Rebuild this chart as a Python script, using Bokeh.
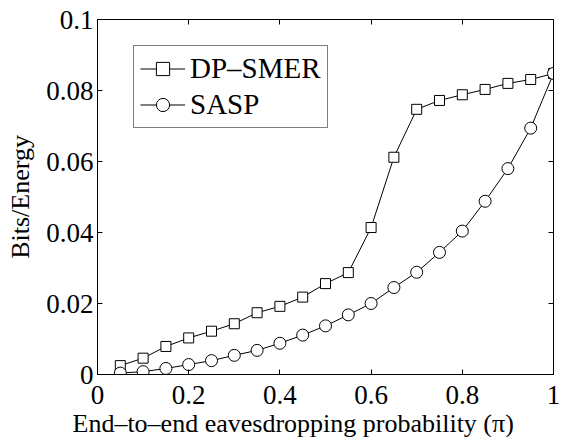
from bokeh.plotting import figure
from bokeh.models import (LinearAxis, FixedTicker, CustomJSTickFormatter, Legend,
                          LegendItem, Range1d, Title)
from bokeh.embed import file_html
from bokeh.resources import INLINE

# data
pi_vals = [0.05, 0.10, 0.15, 0.20, 0.25, 0.30, 0.35, 0.40, 0.45, 0.50,
           0.55, 0.60, 0.65, 0.70, 0.75, 0.80, 0.85, 0.90, 0.95, 1.00]
dp_smer = [0.0025, 0.0046, 0.0079, 0.0103, 0.0122, 0.0143, 0.0174, 0.0192, 0.0218, 0.0256,
           0.0287, 0.0414, 0.0612, 0.0747, 0.0772, 0.0788, 0.0803, 0.0820, 0.0831, 0.0848]
sasp = [0.0004, 0.0008, 0.0017, 0.0028, 0.0039, 0.0054, 0.0068, 0.0088, 0.0111, 0.0137,
        0.0168, 0.0200, 0.0245, 0.0288, 0.0344, 0.0404, 0.0488, 0.0580, 0.0694, 0.0848]
x_ticks = [0, 0.2, 0.4, 0.6, 0.8, 1.0]
y_ticks = [0, 0.02, 0.04, 0.06, 0.08, 0.1]
x_label = "End–to–end eavesdropping probability (π)"
y_label = "Bits/Energy"
series_names = ["DP–SMER", "SASP"]

FONT = "Liberation Serif"
TICK_FS = "27px"
LAB_FS = "26px"

p = figure(frame_width=456, frame_height=355, output_backend="svg", toolbar_location=None,
           x_range=Range1d(0, 1), y_range=Range1d(0, 0.1),
           x_axis_type=None, y_axis_type=None,
           min_border_left=97, min_border_right=19, min_border_top=19, min_border_bottom=0)
p.xgrid.visible = False
p.ygrid.visible = False
p.outline_line_color = "black"
p.outline_line_width = 1
p.background_fill_color = "white"
p.border_fill_color = "white"

fmt = CustomJSTickFormatter(code="return String(parseFloat(tick.toFixed(3)));")
blank = CustomJSTickFormatter(code="return '';")

def style_axis(ax, ticks, show_labels, standoff=4):
    ax.ticker = FixedTicker(ticks=ticks)
    ax.major_tick_in = 5
    ax.major_tick_out = 0
    ax.minor_tick_line_color = None
    ax.axis_line_color = "black"
    ax.major_tick_line_color = "black"
    ax.major_label_text_font = FONT
    ax.major_label_text_color = "black"
    ax.major_label_text_font_size = TICK_FS
    ax.major_label_text_line_height = 1.0
    ax.axis_label_text_font = FONT
    ax.axis_label_text_font_style = "normal"
    ax.axis_label_text_font_size = LAB_FS
    ax.axis_label_text_color = "black"
    if show_labels:
        ax.formatter = fmt
        ax.major_label_standoff = standoff
    else:
        ax.formatter = blank
        ax.major_label_standoff = 0

xb = LinearAxis()
style_axis(xb, x_ticks, True, standoff=11)
xb.major_label_text_line_height = 0.85
p.add_layout(xb, "below")
yl = LinearAxis(axis_label=y_label, axis_label_standoff=8)
style_axis(yl, y_ticks, True, standoff=4)
p.add_layout(yl, "left")
xt = LinearAxis()
style_axis(xt, x_ticks, False)
p.add_layout(xt, "above")
yr = LinearAxis()
style_axis(yr, y_ticks, False)
p.add_layout(yr, "right")

t = Title(text=x_label, align="left", offset=-25, standoff=0,
          text_font=FONT, text_font_size=LAB_FS, text_font_style="normal", text_color="black")
p.add_layout(t, "below")

l1 = p.line(pi_vals, dp_smer, line_color="black", line_width=1)
s1 = p.scatter(pi_vals, dp_smer, marker="square", size=10, fill_color="white",
               line_color="black", line_width=1)
l2 = p.line(pi_vals, sasp, line_color="black", line_width=1)
s2 = p.scatter(pi_vals, sasp, marker="circle", size=12, fill_color="white",
               line_color="black", line_width=1)

legend = Legend(items=[LegendItem(label=series_names[0], renderers=[l1, s1]),
                       LegendItem(label=series_names[1], renderers=[l2, s2])],
                location=(36, 246), label_text_font=FONT, label_text_font_size="29px",
                label_text_color="black", glyph_width=45, glyph_height=33, label_height=33,
                label_standoff=5, spacing=3, padding=6, margin=0,
                border_line_color="black", border_line_width=1, background_fill_alpha=1)
p.add_layout(legend, "center")

open("out.html", "w").write(file_html(p, INLINE))
